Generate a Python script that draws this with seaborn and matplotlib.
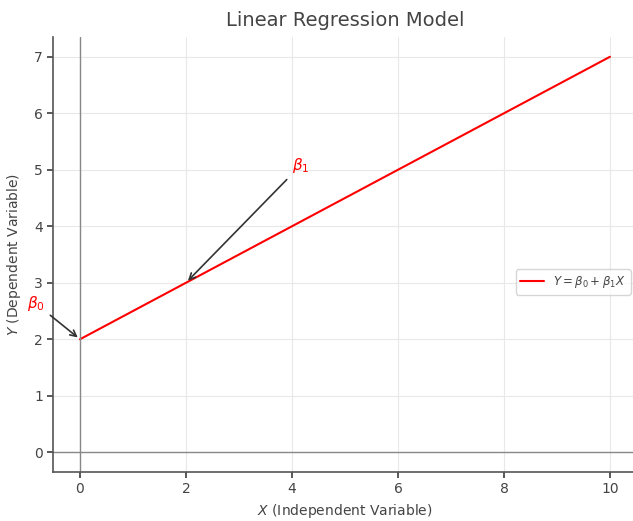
import matplotlib
matplotlib.use("Agg")
import matplotlib.pyplot as plt
import seaborn as sns
import numpy as np
import pandas as pd

x_vals = [0, 2, 4, 6, 8, 10]
y_vals = [2, 3, 4, 5, 6, 7]
x_ticks = [0, 2, 4, 6, 8, 10]
y_ticks = [0, 1, 2, 3, 4, 5, 6, 7]
beta0_point = (0, 2)
beta1_point = (2, 3)

sns.set_theme(style="whitegrid")
plt.rcParams['font.family'] = ['DejaVu Sans']
plt.rcParams['text.color'] = '#444444'
plt.rcParams['axes.labelcolor'] = '#444444'
plt.rcParams['xtick.color'] = '#444444'
plt.rcParams['ytick.color'] = '#444444'

fig = plt.figure(figsize=(6.33, 5.21), dpi=100)
ax = fig.add_axes([0.0845, 0.094, 0.921, 0.835])

df = pd.DataFrame({"x": x_vals, "y": y_vals})
sns.lineplot(data=df, x="x", y="y", ax=ax, color="red", linewidth=1.5,
             label=r"$Y = \beta_0 + \beta_1 X$")

ax.axhline(0, color="#888888", linewidth=1)
ax.axvline(0, color="#888888", linewidth=1)

ax.annotate(r"$\beta_1$", xy=beta1_point, xytext=(4.0, 5.0), color="red", fontsize=11,
            arrowprops=dict(arrowstyle="->", color="#333333", lw=1.2))
ax.annotate(r"$\beta_0$", xy=beta0_point, xytext=(-1.0, 2.55), color="red", fontsize=11,
            arrowprops=dict(arrowstyle="->", color="#333333", lw=1.2),
            annotation_clip=False)

ax.set_xlim(-0.5, 10.5)
ax.set_ylim(-0.35, 7.35)
ax.set_xticks(x_ticks)
ax.set_yticks(y_ticks)
ax.set_title("Linear Regression Model", fontsize=14, color="#444444", pad=8)
ax.set_xlabel(r"$X$ (Independent Variable)", fontsize=10)
ax.set_ylabel(r"$Y$ (Dependent Variable)", fontsize=10, labelpad=8)
ax.tick_params(axis='both', labelsize=10, length=4, left=True, bottom=True, colors='#444444')
ax.grid(True, color="#e8e8e8", linewidth=0.8)
for side in ["top", "right"]:
    ax.spines[side].set_visible(False)
for side in ["left", "bottom"]:
    ax.spines[side].set_visible(True)
    ax.spines[side].set_color("#555555")
    ax.spines[side].set_linewidth(1.2)

ax.legend(loc="center right", bbox_to_anchor=(1.0, 0.437), fontsize=8.5, frameon=True)

fig.savefig("out.png", dpi=100)
